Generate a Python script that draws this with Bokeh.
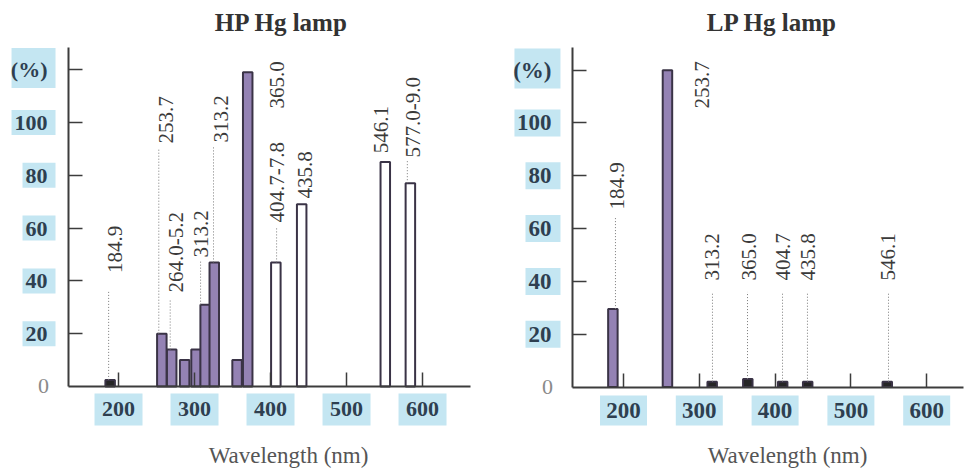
import math
from bokeh.plotting import figure
from bokeh.models import LinearAxis, FixedTicker, Range1d, ColumnDataSource
from bokeh.layouts import row
from bokeh.core.properties import value
from bokeh.embed import file_html
from bokeh.resources import INLINE

# ---------------- data ----------------
x_ticks = [200, 300, 400, 500, 600]
y_ticks = [20, 40, 60, 80, 100, 120]
y_tick_names = {120: "(%)"}

# HP (high pressure) mercury lamp
hp_wavelength = [189, 257, 270, 287, 302, 314, 326, 356, 370, 407, 441, 551, 584]
hp_intensity = [2.5, 20, 14, 10, 14, 31, 47, 10, 119, 47, 69, 85, 77]
hp_band = ["trace", "uv", "uv", "uv", "uv", "uv", "uv", "uv", "uv", "vis", "vis", "vis", "vis"]
hp_line_names = ["184.9", "253.7", "264.0-5.2", "313.2", "313.2", "365.0",
                 "404.7-7.8", "435.8", "546.1", "577.0-9.0"]
hp_name_bar = [0, 1, 2, 5, 6, 8, 9, 10, 11, 12]

# LP (low pressure) mercury lamp
lp_wavelength = [186, 258, 317, 364, 410, 443, 548]
lp_intensity = [29.5, 120, 2, 3, 2, 2, 2]
lp_band = ["uv", "uv", "trace", "trace", "trace", "trace", "trace"]
lp_line_names = ["184.9", "253.7", "313.2", "365.0", "404.7", "435.8", "546.1"]
lp_name_bar = [0, 1, 2, 3, 4, 5, 6]

# ---------------- layout (label placement) ----------------
hp_layout = dict(
    width=482, x_range=(44.74, 678.9), y_range=(-31.06, 146.2),
    axis_x=134.2, axis_x_end=663, axis_y_top=128.4,
    label_x=[196, 262, 276, 308, 335, 409, 409, 445, 545, 588],
    label_y=[43, 92, 35.6, 48.9, 92.4, 105.3, 62.1, 71.2, 88.3, 86.7],
    leader_x=[187, 253, 268, 308, 325, None, 408, None, None, 580],
    leader_top=[36.4, 90, 33.3, 47.5, 91, None, 60, None, None, 86],
    title="HP Hg lamp", title_x=414.5, title_y=137.9,
    xlabel_x=423.7, xlabel_y=-26.1, zero_x=101.3,
    ybox_x3=88.2, ybox_x2=95.4, ybox_w3=44, ybox_w2=33, ybox_h=25,
    xbox_y=-8.7, xbox_w=48, xbox_h=32, tick_size="22px",
)
lp_layout = dict(
    width=483, x_range=(13.99, 651.2), y_range=(-30.87, 146.4),
    axis_x=132.7, axis_x_end=648.5, axis_y_top=128.6,
    label_x=[192, 303, 317.4, 365, 411, 444, 549.6],
    label_y=[67.2, 105.5, 40.3, 40.3, 40.3, 40.3, 40.3],
    leader_x=[189.4, None, 317.4, 363.6, 409.8, 442.7, 549.6],
    leader_top=[64, None, 36, 36, 36, 36, 36],
    title="LP Hg lamp", title_x=395.9, title_y=138,
    xlabel_x=416.4, xlabel_y=-26.1, zero_x=99.7,
    ybox_x3=86.5, ybox_x2=93.8, ybox_w3=46, ybox_w2=35, ybox_h=27,
    xbox_y=-8.9, xbox_w=47, xbox_h=30, tick_size="23px",
)

BAND_FILL = {"trace": "#262626", "uv": "#9482b4", "vis": "#ffffff"}
HILITE = "#c4e6f2"
TICK_COLOR = "#2e3f50"
AXIS_COLOR = "#3c3c3c"
SERIF = "Liberation Serif"


def make_panel(wl, inten, band, names, name_bar, L):
    p = figure(width=L["width"], height=468,
               x_range=Range1d(*L["x_range"]), y_range=Range1d(*L["y_range"]),
               x_axis_type=None, y_axis_type=None, title=None,
               toolbar_location=None, output_backend="svg", min_border=0)
    p.outline_line_color = None
    p.background_fill_color = "white"
    p.border_fill_color = "white"

    # highlight boxes behind tick labels
    ytxt = [y_tick_names.get(t, str(t)) for t in y_ticks]
    yb_x = [L["ybox_x3"] if len(s) == 3 else L["ybox_x2"] for s in ytxt]
    yb_w = [L["ybox_w3"] if len(s) == 3 else L["ybox_w2"] for s in ytxt]
    yb_h = [40 if s == "(%)" else L["ybox_h"] for s in ytxt]
    yb_y = [t + (0.6 if s == "(%)" else 0) for t, s in zip(y_ticks, ytxt)]
    p.rect(x=yb_x, y=yb_y, width=yb_w, height=yb_h, width_units="screen",
           height_units="screen", fill_color=HILITE, line_color=None)
    p.rect(x=x_ticks, y=[L["xbox_y"]] * len(x_ticks), width=L["xbox_w"],
           height=L["xbox_h"], width_units="screen", height_units="screen",
           fill_color=HILITE, line_color=None)

    # bars
    src = ColumnDataSource(dict(x=wl, top=inten, fill=[BAND_FILL[b] for b in band]))
    p.vbar(x="x", top="top", bottom=0, width=12.5, source=src, fill_color="fill",
           line_color="#3a3346", line_width=2)

    # dotted leader lines
    lx, y0s, y1s = [], [], []
    for i, bi in enumerate(name_bar):
        if L["leader_x"][i] is not None:
            lx.append(L["leader_x"][i])
            y0s.append(inten[bi])
            y1s.append(L["leader_top"][i])
    p.segment(x0=lx, y0=y0s, x1=lx, y1=y1s, line_color="#7a7a7a",
              line_width=1, line_dash="1 2")

    # rotated line names
    p.text(x=L["label_x"], y=L["label_y"], text=names, angle=math.pi / 2,
           text_align="left", text_baseline="middle",
           text_font=value(SERIF), text_font_size="21px", text_color="#3a3a3a")

    # axes
    xaxis = LinearAxis(fixed_location=0, bounds=(L["axis_x"], L["axis_x_end"]),
                       ticker=FixedTicker(ticks=x_ticks))
    yaxis = LinearAxis(fixed_location=L["axis_x"], bounds=(0, L["axis_y_top"]),
                       ticker=FixedTicker(ticks=y_ticks),
                       major_label_overrides=y_tick_names)
    for ax in (xaxis, yaxis):
        ax.axis_line_color = AXIS_COLOR
        ax.axis_line_width = 2
        ax.major_tick_line_color = AXIS_COLOR
        ax.major_tick_line_width = 1.5
        ax.major_tick_in = 14
        ax.major_tick_out = 0
        ax.minor_tick_line_color = None
        ax.major_label_text_font = SERIF
        ax.major_label_text_font_style = "bold"
        ax.major_label_text_font_size = L["tick_size"]
        ax.major_label_text_color = TICK_COLOR
    xaxis.major_label_standoff = 16
    yaxis.major_label_standoff = 21
    yaxis.major_label_orientation = "horizontal"
    p.add_layout(xaxis, "below")
    p.add_layout(yaxis, "left")

    # zero label, title, axis title
    p.text(x=[L["zero_x"]], y=[0], text=["0"], text_align="center",
           text_baseline="middle", text_font=value(SERIF), text_font_size="22px",
           text_color="#8a8a8a")
    p.text(x=[L["title_x"]], y=[L["title_y"]], text=[L["title"]], text_align="center",
           text_baseline="middle", text_font=value(SERIF), text_font_size="25px",
           text_font_style="bold", text_color="#333333")
    p.text(x=[L["xlabel_x"]], y=[L["xlabel_y"]], text=["Wavelength (nm)"],
           text_align="center", text_baseline="middle", text_font=value(SERIF),
           text_font_size="23px", text_color="#555555")
    return p


p_hp = make_panel(hp_wavelength, hp_intensity, hp_band, hp_line_names, hp_name_bar, hp_layout)
p_lp = make_panel(lp_wavelength, lp_intensity, lp_band, lp_line_names, lp_name_bar, lp_layout)

layout = row(p_hp, p_lp, spacing=0)
open("out.html", "w").write(file_html(layout, INLINE))
